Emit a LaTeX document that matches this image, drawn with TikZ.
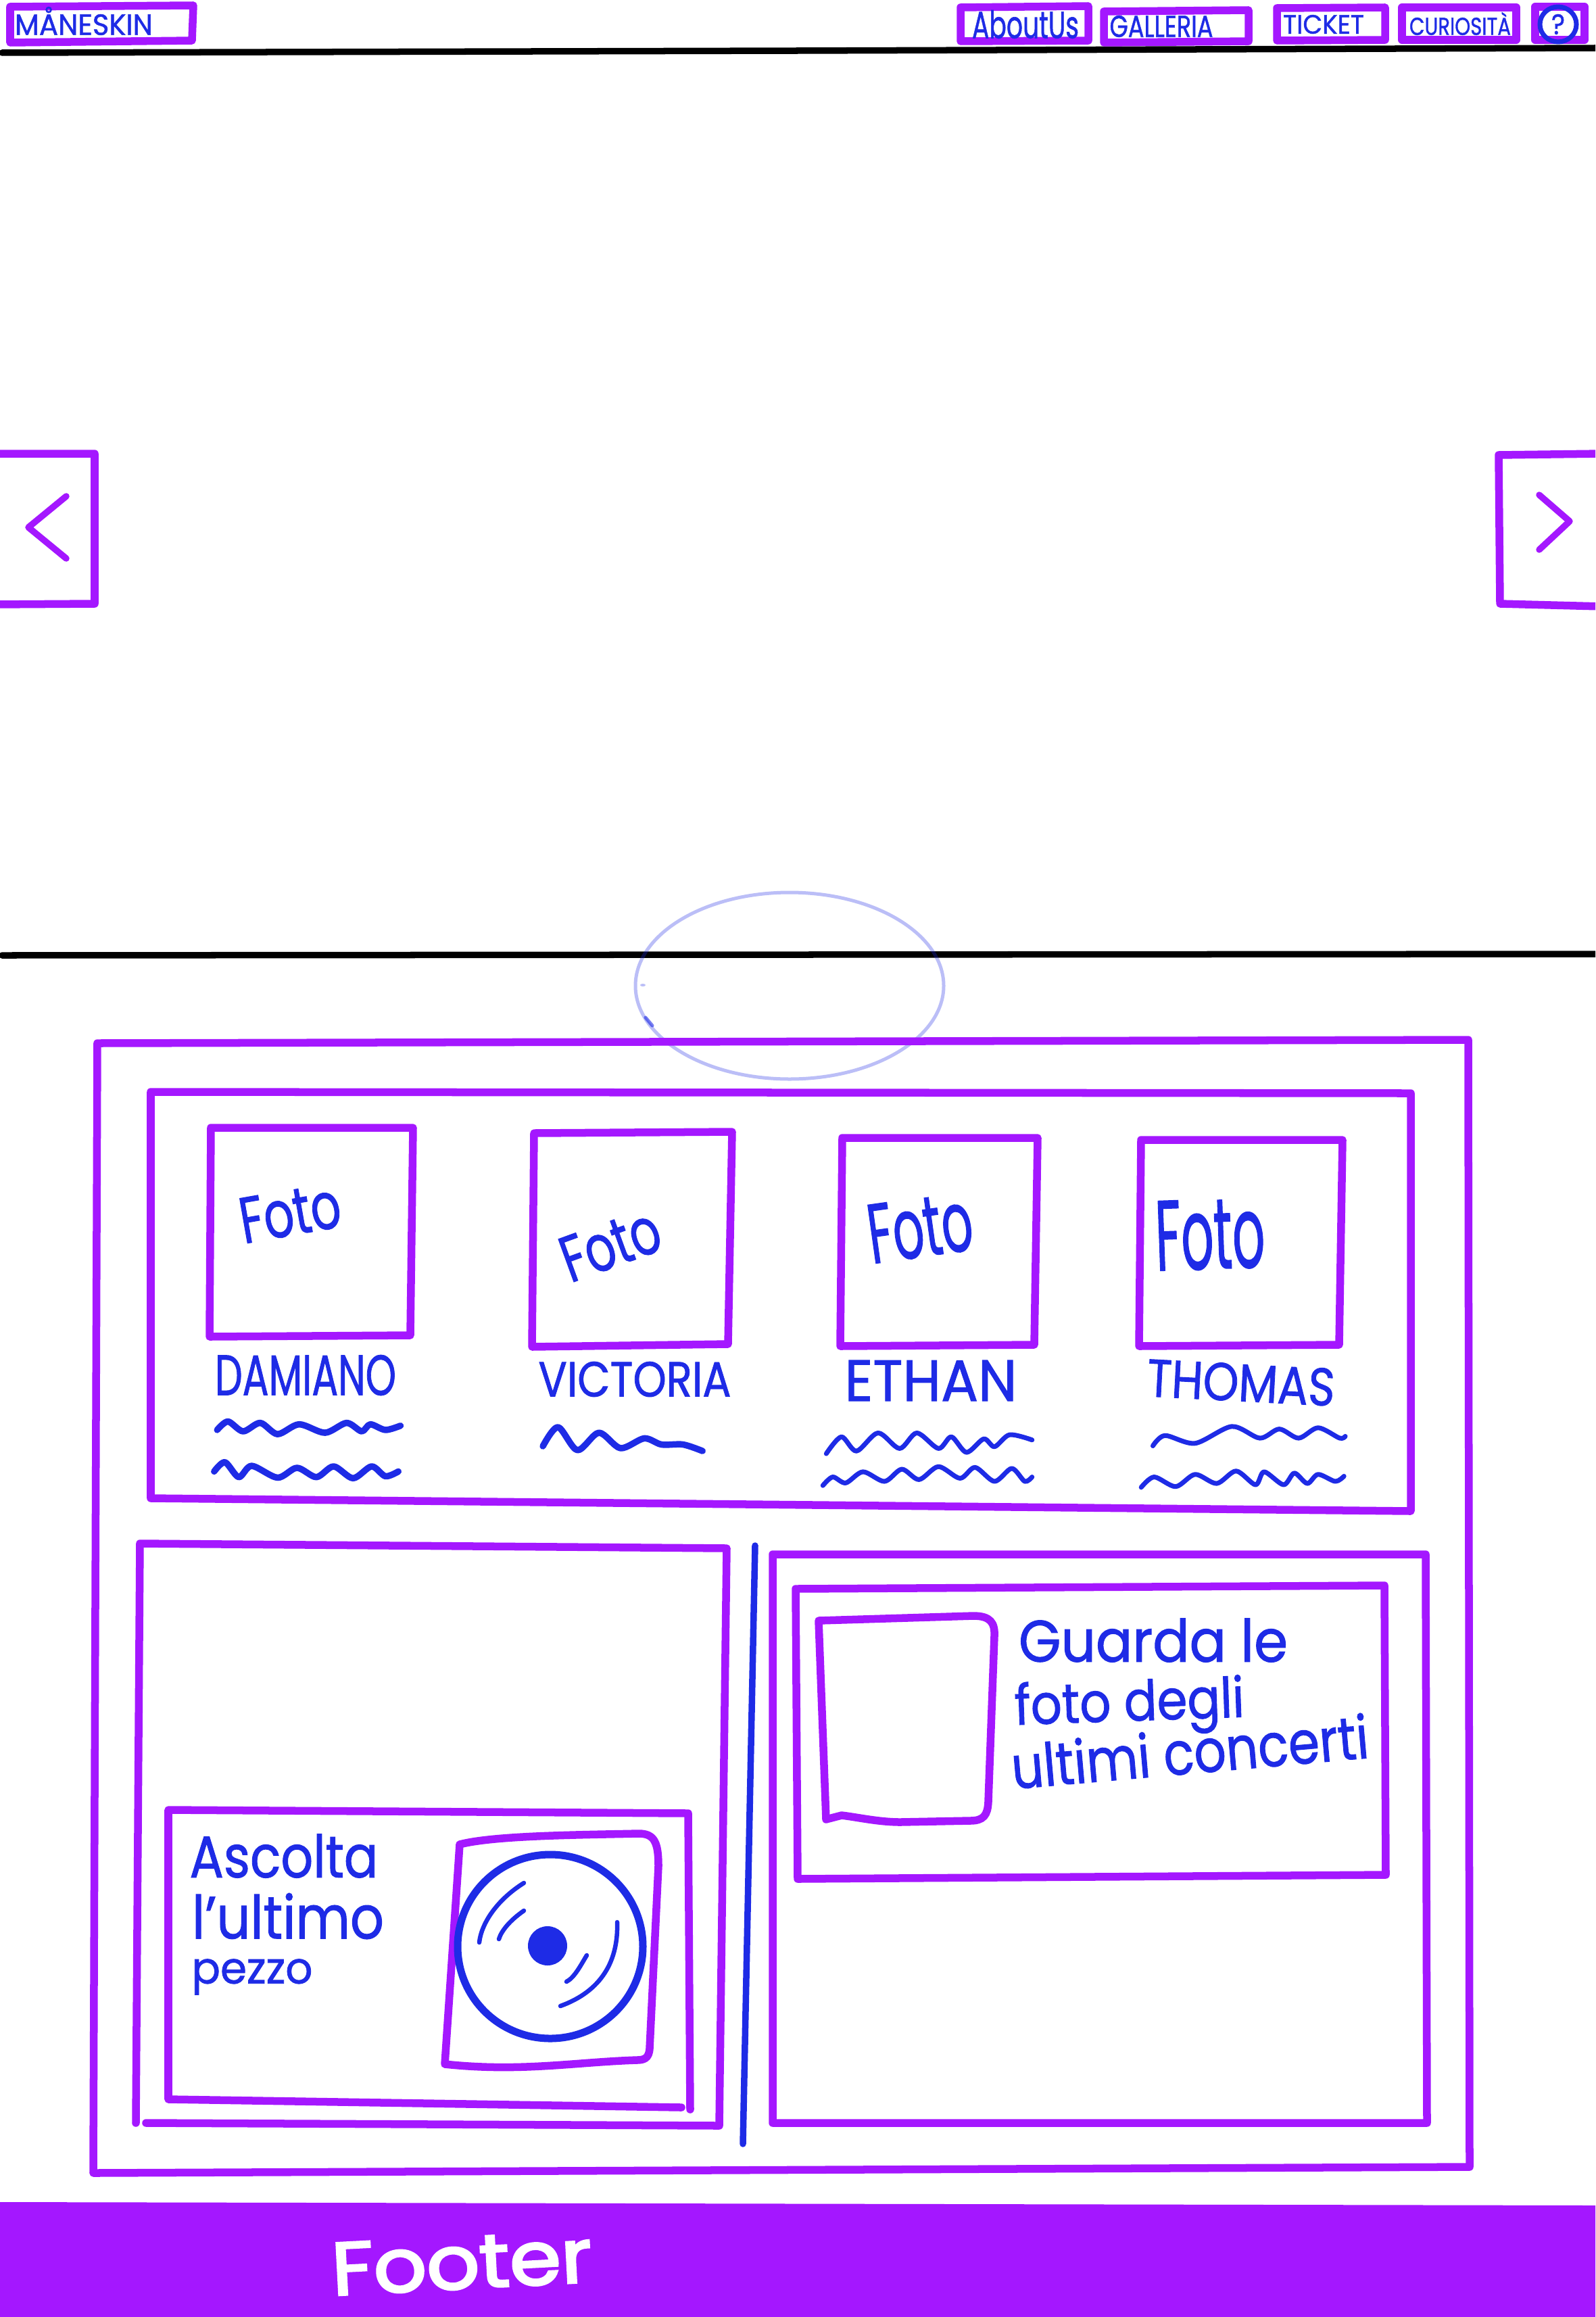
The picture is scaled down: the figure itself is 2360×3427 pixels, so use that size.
\documentclass[tikz,border=0pt]{standalone}
\usepackage{fontspec}
\setmainfont{Poppins}[FakeBold=1.2]
\newfontfamily\boldhand{Poppins}[FakeBold=3]
\definecolor{wfpurple}{HTML}{A417FF}
\definecolor{wfblue}{HTML}{1E2BE6}
\newdimen\pxu \pxu=0.01cm
\newcommand\handfit[3]{\resizebox*{#1\pxu}{#2\pxu}{#3}}
\tikzset{
  pbox/.style={draw=wfpurple,line width=0.115cm,line join=round,line cap=round},
  rule/.style={draw=black,line width=0.095cm,line cap=round},
  ink/.style={draw=wfblue,line width=0.095cm,line join=round,line cap=round},
  waveline/.style={draw=wfblue,line width=0.095cm,line join=round,line cap=round},
  handtext/.style={text=wfblue,inner sep=0pt,outer sep=0pt},
}
\begin{document}
\begin{tikzpicture}[x=0.01cm,y=-0.01cm]
\useasboundingbox (0,0) rectangle (2360,3427);
\clip (0,0) rectangle (2360,3427);
\fill[white] (0,0) rectangle (2360,3427);

% rules
\draw[rule] (3,78) -- (1180,75) -- (2360,71);
\draw[rule] (3,1413) -- (2360,1411);

% header boxes
\draw[pbox] (15,10) -- (286,8) -- (284,60) -- (15,63) -- cycle;
\draw[pbox] (1421,11) -- (1610,9) -- (1610,60) -- (1421,61) -- cycle;
\draw[pbox] (1633,17) -- (1847,15) -- (1847,61) -- (1633,63) -- cycle;
\draw[pbox] (1889,12) -- (2049,11) -- (2049,59) -- (1889,60) -- cycle;
\draw[pbox] (2074,11) -- (2243,11) -- (2243,59) -- (2074,59) -- cycle;
\draw[pbox] (2271,10) -- (2344,10) -- (2344,59) -- (2271,59) -- cycle;
\draw[ink,line width=0.07cm] (2305,36) ellipse (27 and 26);

\node[handtext] (brand) at (124,31) {\handfit{204}{42}{MÅNESKIN}};
\node[handtext] (about) at (1517,36) {\handfit{158}{42}{AboutUs}};
\node[handtext] (gallery) at (1718,39) {\handfit{153}{32}{GALLERIA}};
\node[handtext] (ticket) at (1958,36) {\handfit{120}{28}{TICKET}};
\node[handtext] (curio) at (2160,35) {\handfit{150}{34}{CURIOSITÀ}};
\node[handtext] (help) at (2305,36) {\handfit{20}{30}{?}};

% side arrows
\draw[pbox] (-10,671) -- (140,671) -- (140,893) -- (-10,894);
\draw[ink,draw=wfpurple] (98,734) -- (42,780) -- (98,826);
\draw[pbox] (2370,671) -- (2217,673) -- (2219,893) -- (2370,897);
\draw[ink,draw=wfpurple] (2277,732) -- (2322,771) -- (2277,813);

% faint ellipse
\draw[wfblue,draw opacity=0.3,line width=0.05cm] (1168,1458) ellipse (228 and 138);
\draw[wfblue,draw opacity=0.6,line width=0.05cm,line cap=round] (955,1505) -- (965,1517);
\fill[wfblue,opacity=0.3] (951,1457) ellipse (4 and 2);

% outer box and team box
\draw[pbox] (144,1543) -- (2172,1538) -- (2174,3205) -- (138,3214) -- cycle;
\draw[pbox] (223,1615) -- (2087,1617) -- (2087,2235) -- (223,2216) -- cycle;

% photos
\draw[pbox] (312,1668) -- (611,1668) -- (607,1975) -- (310,1977) -- cycle;
\draw[pbox] (790,1676) -- (1083,1674) -- (1077,1988) -- (787,1992) -- cycle;
\draw[pbox] (1246,1683) -- (1535,1683) -- (1530,1989) -- (1243,1991) -- cycle;
\draw[pbox] (1688,1686) -- (1986,1686) -- (1981,1989) -- (1685,1991) -- cycle;

\node[handtext,rotate=10] (foto1) at (429,1794) {\handfit{150}{68}{Foto}};
\node[handtext,rotate=20] (foto2) at (903,1841) {\handfit{150}{68}{Foto}};
\node[handtext,rotate=8] (foto3) at (1361,1816) {\handfit{155}{88}{Foto}};
\node[handtext,rotate=2] (foto4) at (1790,1826) {\handfit{162}{104}{Foto}};

\node[handtext] (damiano) at (452,2034) {\handfit{268}{60}{DAMIANO}};
\node[handtext] (victoria) at (939,2040) {\handfit{285}{52}{VICTORIA}};
\node[handtext] (ethan) at (1377,2042) {\handfit{255}{60}{ETHAN}};
\node[handtext,rotate=-3] (thomas) at (1836,2045) {\handfit{278}{56}{THOMAS}};

% scribbled lines
\begin{scope}[shift={(200,1600)},x=0.006378cm,y=-0.00415cm]
\draw[waveline] plot[smooth] coordinates {(190,1240)(215,1210)(250,1245)(290,1215)(330,1255)(380,1220)(440,1250)(490,1215)(525,1245)(545,1220)(580,1240)(615,1225)};
\draw[waveline] plot[smooth] coordinates {(183,1388)(208,1355)(240,1408)(270,1368)(330,1410)(375,1375)(420,1408)(460,1370)(505,1412)(548,1370)(580,1405)(610,1388)};
\draw[waveline] plot[smooth] coordinates {(945,1298)(980,1230)(1025,1312)(1075,1250)(1125,1305)(1180,1270)(1220,1292)(1270,1292)(1315,1315)};
\end{scope}
\begin{scope}[shift={(1200,1650)},x=0.006378cm,y=-0.00383cm]
\draw[waveline,line width=0.07cm] plot[smooth] coordinates {(35,1305)(70,1240)(105,1295)(155,1225)(205,1285)(245,1225)(295,1285)(325,1240)(360,1300)(400,1248)(425,1278)(460,1232)(512,1252)};
\draw[waveline,line width=0.07cm] plot[smooth] coordinates {(27,1428)(50,1395)(80,1418)(120,1375)(170,1412)(210,1365)(250,1405)(295,1355)(345,1400)(380,1358)(425,1412)(465,1362)(495,1412)(512,1395)};
\draw[waveline,line width=0.07cm] plot[smooth] coordinates {(792,1275)(820,1235)(890,1265)(975,1200)(1040,1245)(1085,1210)(1130,1245)(1175,1205)(1225,1245)(1238,1238)};
\draw[waveline,line width=0.07cm] plot[smooth] coordinates {(765,1435)(795,1395)(845,1432)(890,1385)(940,1420)(985,1372)(1030,1425)(1050,1375)(1095,1425)(1120,1380)(1150,1420)(1175,1385)(1215,1412)(1235,1392)};
\end{scope}

% lower left open panel
\draw[pbox] (201,3140) -- (207,2283) -- (1075,2290) -- (1064,3144) -- (216,3140);
% divider
\draw[ink] (1117,2286) -- (1099,3171);
% lower right panel
\draw[pbox] (1143,2299) -- (2109,2299) -- (2111,3140) -- (1143,3140) -- cycle;

% gallery card
\draw[pbox] (1177,2350) -- (2048,2345) -- (2050,2773) -- (1180,2779) -- cycle;
\draw[pbox] (1211,2397) -- (1440,2390) .. controls (1465,2390) and (1472,2400) .. (1471,2420)
  -- (1462,2665) .. controls (1461,2685) and (1455,2693) .. (1435,2693)
  -- (1332,2695) .. controls (1300,2695) and (1270,2688) .. (1245,2685) -- (1222,2691) -- cycle;
\node[handtext] (guarda1) at (1706,2426) {\handfit{398}{65}{Guarda le}};
\node[handtext,rotate=2] (guarda2) at (1671,2525) {\handfit{340}{85}{foto degli}};
\node[handtext,rotate=5] (guarda3) at (1760,2590) {\handfit{530}{68}{ultimi concerti}};

% music card
\draw[pbox] (1021,3120) -- (1018,2682) -- (249,2677) -- (249,3105) -- (1008,3117);
\draw[pbox] (680,2728) .. controls (730,2715) and (850,2714) .. (945,2712)
  .. controls (968,2712) and (974,2725) .. (974,2760)
  -- (961,3030) .. controls (960,3045) and (952,3047) .. (942,3047)
  .. controls (850,3050) and (770,3065) .. (658,3053) -- cycle;
\draw[ink,line width=0.11cm] (814,2879) ellipse (137 and 136);
\fill[wfblue] (810,2878) ellipse (29 and 29);
\draw[ink,line width=0.065cm] (775,2785) .. controls (735,2810) and (712,2845) .. (709,2873);
\draw[ink,line width=0.065cm] (775,2826) .. controls (755,2840) and (742,2855) .. (738,2868);
\draw[ink,line width=0.065cm] (913,2843) .. controls (915,2900) and (890,2945) .. (829,2967);
\draw[ink,line width=0.065cm] (868,2892) .. controls (860,2905) and (850,2925) .. (838,2931);
\node[handtext] (listen1) at (420,2745) {\handfit{279}{65}{Ascolta}};
\node[handtext] (listen2) at (426,2834) {\handfit{284}{68}{l'ultimo}};
\node[handtext] (listen3) at (373,2924) {\handfit{179}{53}{pezzo}};

% footer
\fill[wfpurple] (0,3257) -- (2360,3262) -- (2360,3427) -- (0,3427) -- cycle;
\node[text=white,inner sep=0pt,rotate=3] (footer) at (683,3347) {\handfit{385}{78}{\boldhand Footer}};
\end{tikzpicture}
\end{document}
